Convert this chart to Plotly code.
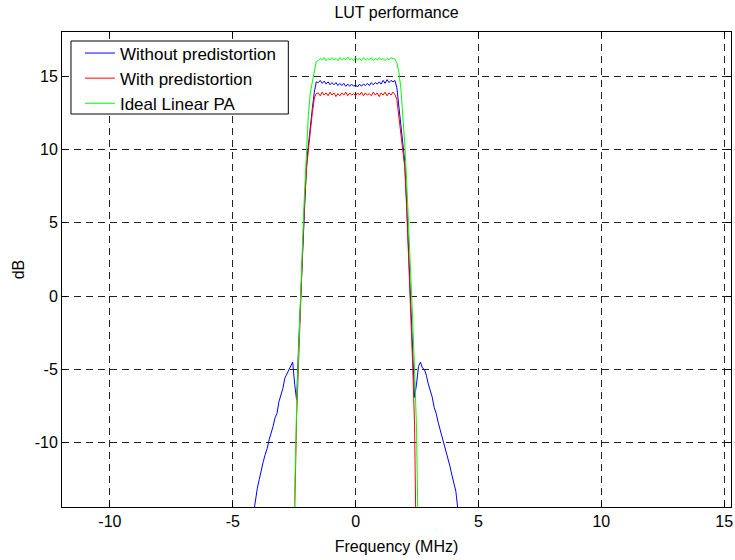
import plotly.graph_objects as go

# ---- data ----
freq_band = [-2.64, -2.56, -2.48, -2.40, -2.32, -2.24, -2.16, -2.08, -2.00, -1.92,
             -1.84, -1.76, -1.68, -1.60, -1.52, -1.44, -1.36, -1.28, -1.20, -1.12,
             -1.04, -0.96, -0.88, -0.80, -0.72, -0.64, -0.56, -0.48, -0.40, -0.32,
             -0.24, -0.16, -0.08, 0.00, 0.08, 0.16, 0.24, 0.32, 0.40, 0.48,
             0.56, 0.64, 0.72, 0.80, 0.88, 0.96, 1.04, 1.12, 1.20, 1.28,
             1.36, 1.44, 1.52, 1.60, 1.68, 1.76, 1.84, 1.92, 2.00, 2.08,
             2.16, 2.24, 2.32, 2.40, 2.48, 2.56, 2.64]

ideal_db = [-40.0, -25.0, -13.5, -7.5, -3.5, 0.3, 3.6, 7.0, 9.8, 12.4,
            13.9, 14.6, 15.2, 16.0, 16.05, 16.2, 16.1, 16.25, 16.05, 16.2,
            16.1, 16.25, 16.1, 16.2, 16.05, 16.25, 16.1, 16.2, 16.1, 16.3,
            16.1, 16.2, 16.05, 16.25, 16.1, 16.2, 16.05, 16.25, 16.1, 16.2,
            16.1, 16.25, 16.05, 16.2, 16.1, 16.25, 16.1, 16.2, 16.05, 16.2,
            16.1, 16.25, 16.2, 16.15, 15.9, 15.3, 14.2, 12.6, 10.4, 7.8,
            5.0, 2.0, -1.5, -5.0, -9.0, -18.0, -40.0]

with_pd_db = [-40.0, -28.0, -14.8, -8.2, -4.0, -0.5, 3.0, 6.3, 8.6, 10.0,
              11.4, 12.5, 13.5, 13.8, 13.85, 13.65, 13.9, 13.7, 13.85, 13.65,
              13.9, 13.7, 13.85, 13.6, 13.8, 13.65, 13.85, 13.7, 13.9, 13.65,
              13.85, 13.7, 13.8, 13.65, 13.85, 13.7, 13.9, 13.65, 13.85, 13.7,
              13.8, 13.65, 13.9, 13.7, 13.85, 13.6, 13.85, 13.7, 13.9, 13.65,
              13.85, 13.7, 13.9, 13.75, 13.4, 12.3, 11.3, 10.3, 8.8, 6.0,
              2.8, -0.8, -4.5, -8.8, -14.2, -28.0, -40.0]

freq_wide = [-4.24, -4.16, -4.08, -4.00, -3.92, -3.84, -3.76, -3.68, -3.60, -3.52,
             -3.44, -3.36, -3.28, -3.20, -3.12, -3.04, -2.96, -2.88, -2.80, -2.72,
             -2.64, -2.56, -2.48, -2.40, -2.32, -2.24, -2.16, -2.08, -2.00, -1.92,
             -1.84, -1.76, -1.68, -1.60, -1.52, -1.44, -1.36, -1.28, -1.20, -1.12,
             -1.04, -0.96, -0.88, -0.80, -0.72, -0.64, -0.56, -0.48, -0.40, -0.32,
             -0.24, -0.16, -0.08, 0.00, 0.08, 0.16, 0.24, 0.32, 0.40, 0.48,
             0.56, 0.64, 0.72, 0.80, 0.88, 0.96, 1.04, 1.12, 1.20, 1.28,
             1.36, 1.44, 1.52, 1.60, 1.68, 1.76, 1.84, 1.92, 2.00, 2.08,
             2.16, 2.24, 2.32, 2.40, 2.48, 2.56, 2.64, 2.72, 2.80, 2.88,
             2.96, 3.04, 3.12, 3.20, 3.28, 3.36, 3.44, 3.52, 3.60, 3.68,
             3.76, 3.84, 3.92, 4.00, 4.08, 4.16, 4.24]

without_pd_db = [-15.8, -14.8, -13.9, -13.1, -12.5, -11.8, -11.3, -10.8, -10.4, -9.8,
                 -9.4, -8.9, -8.3, -8.0, -7.2, -6.7, -6.3, -5.6, -5.3, -5.0,
                 -4.8, -4.5, -6.0, -7.1, -3.4, 0.0, 3.3, 6.6, 8.9, 10.3,
                 11.7, 12.8, 13.9, 14.6, 14.55, 14.7, 14.5, 14.65, 14.45, 14.6,
                 14.4, 14.55, 14.4, 14.55, 14.35, 14.5, 14.35, 14.5, 14.3, 14.45,
                 14.3, 14.45, 14.3, 14.4, 14.25, 14.45, 14.3, 14.45, 14.35, 14.5,
                 14.35, 14.55, 14.4, 14.55, 14.45, 14.6, 14.45, 14.7, 14.5, 14.75,
                 14.55, 14.7, 14.6, 14.7, 14.2, 13.0, 11.8, 10.6, 9.2, 6.3,
                 3.0, -0.4, -3.8, -6.9, -6.0, -4.8, -4.5, -4.9, -5.0, -5.4,
                 -6.0, -6.4, -6.9, -7.6, -8.0, -8.6, -9.1, -9.5, -10.1, -10.6,
                 -11.0, -11.6, -12.2, -12.7, -13.3, -14.5, -15.5]

series_names = ["Without predistortion", "With predistortion", "Ideal Linear PA"]
x_ticks = [-10, -5, 0, 5, 10, 15]
x_tick_labels = ["-10", "-5", "0", "5", "10", "15"]
y_ticks = [-10, -5, 0, 5, 10, 15]
y_tick_labels = ["-10", "-5", "0", "5", "10", "15"]

FONT = "Liberation Sans, Arial, sans-serif"

# plot area in pixels: left 62, right 733, top 32, bottom 507
PL, PR, PT, PB = 62, 733, 32, 507
W, H = 735, 560


def px_x(p):
    return (p - PL) / (PR - PL)


def px_y(p):
    return 1 - (p - PT) / (PB - PT)


fig = go.Figure()
fig.add_trace(go.Scatter(x=freq_wide, y=without_pd_db, mode="lines",
                         name=series_names[0], line=dict(color="#0000ff", width=1)))
fig.add_trace(go.Scatter(x=freq_band, y=with_pd_db, mode="lines",
                         name=series_names[1], line=dict(color="#ff0000", width=1)))
fig.add_trace(go.Scatter(x=freq_band, y=ideal_db, mode="lines",
                         name=series_names[2], line=dict(color="#00ff00", width=1)))

axis_common = dict(
    showline=True, linecolor="black", linewidth=1, mirror="ticks",
    ticks="inside", ticklen=5, tickcolor="black", tickwidth=1,
    showgrid=True, gridcolor="#222222", gridwidth=1, griddash="7px,5px",
    zeroline=False, tickfont=dict(family=FONT, size=16, color="black"),
    ticklabeloverflow="allow",
)

# legend frame (white box with black border)
fig.add_shape(type="rect", xref="paper", yref="paper",
              x0=px_x(71), x1=px_x(289), y0=px_y(114), y1=px_y(41),
              line=dict(color="black", width=1), fillcolor="white", layer="above")

fig.update_layout(
    width=W, height=H,
    margin=dict(l=PL, r=W - PR, t=PT, b=H - PB),
    paper_bgcolor="white", plot_bgcolor="white",
    font=dict(family=FONT, size=16, color="black"),
    title=dict(text="LUT performance", x=0.5, xref="paper", xanchor="center",
               y=1 - 12 / H, yref="container", yanchor="middle",
               font=dict(family=FONT, size=16, color="black")),
    xaxis=dict(range=[-11.95, 15.28], tickvals=x_ticks, ticktext=x_tick_labels,
               title=dict(text="Frequency (MHz)", standoff=11,
                          font=dict(family=FONT, size=16, color="black")),
               **axis_common),
    yaxis=dict(range=[-14.38, 18.0], tickvals=y_ticks, ticktext=y_tick_labels,
               title=dict(text="dB", standoff=6,
                          font=dict(family=FONT, size=16, color="black")),
               **axis_common),
    legend=dict(x=px_x(80), y=px_y(35.5), xanchor="left", yanchor="top",
                bgcolor="rgba(0,0,0,0)", borderwidth=0,
                font=dict(family=FONT, size=17, color="black"),
                itemwidth=30, tracegroupgap=0),
    showlegend=True,
)

fig.write_html("out.html")
